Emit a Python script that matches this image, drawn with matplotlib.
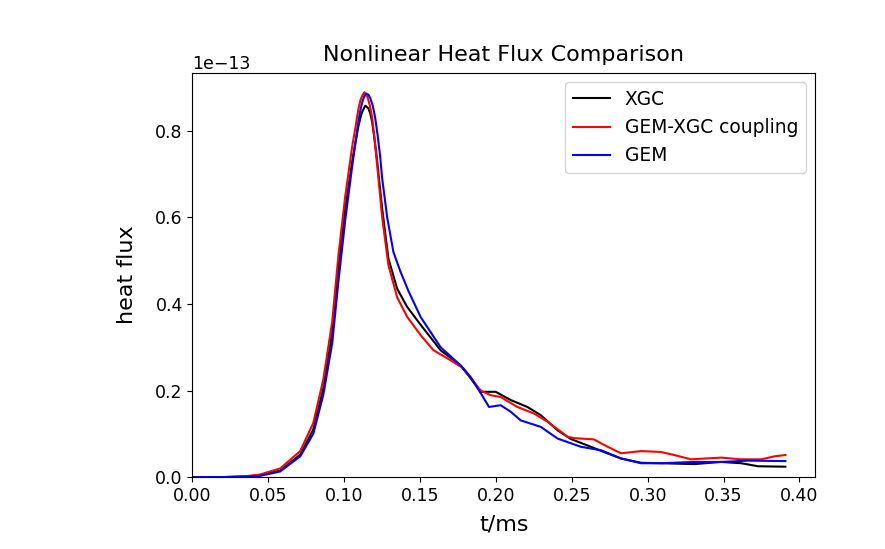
import matplotlib
matplotlib.use("Agg")
import matplotlib.pyplot as plt
import numpy as np

# values, heat flux in units of 1e-13
t_xgc = [0.0, 0.02, 0.035, 0.0446, 0.0578, 0.071, 0.0796, 0.0862, 0.0921, 0.0961,
         0.1007, 0.1053, 0.1075, 0.1093, 0.1108, 0.112, 0.1139, 0.1159, 0.1172, 0.1184,
         0.12, 0.1217, 0.125, 0.1291, 0.1349, 0.1415, 0.1503, 0.1635, 0.1767, 0.1833,
         0.1899, 0.1998, 0.2097, 0.2207, 0.2295, 0.2406, 0.2493, 0.2625, 0.2711, 0.2824,
         0.2956, 0.3088, 0.3306, 0.3484, 0.3616, 0.3727, 0.3907]
q_xgc = [0.0, 0.0, 0.001, 0.004, 0.015, 0.052, 0.11, 0.205, 0.335, 0.48,
         0.62, 0.73, 0.775, 0.81, 0.832, 0.845, 0.858, 0.852, 0.84, 0.82,
         0.78, 0.73, 0.62, 0.505, 0.435, 0.393, 0.352, 0.293, 0.258, 0.228,
         0.197, 0.197, 0.178, 0.162, 0.143, 0.108, 0.088, 0.07, 0.058, 0.043,
         0.033, 0.032, 0.030, 0.035, 0.032, 0.025, 0.024]

t_cpl = [0.0, 0.02, 0.035, 0.0446, 0.0578, 0.071, 0.0796, 0.0862, 0.0921, 0.0961,
         0.1007, 0.1053, 0.1075, 0.1093, 0.1108, 0.112, 0.1133, 0.1153, 0.1168, 0.1184,
         0.12, 0.1217, 0.125, 0.1291, 0.1349, 0.1415, 0.1503, 0.1588, 0.170, 0.1786,
         0.1899, 0.1965, 0.2031, 0.2141, 0.2249, 0.234, 0.2472, 0.2513, 0.2645, 0.2736,
         0.2824, 0.2956, 0.3088, 0.3174, 0.3286, 0.3484, 0.3616, 0.3748, 0.3836, 0.3907]
q_cpl = [0.0, 0.0, 0.002, 0.006, 0.02, 0.06, 0.125, 0.225, 0.36, 0.51,
         0.65, 0.765, 0.81, 0.85, 0.872, 0.882, 0.889, 0.878, 0.86, 0.83,
         0.78, 0.72, 0.6, 0.49, 0.415, 0.37, 0.328, 0.293, 0.27, 0.251,
         0.20, 0.189, 0.185, 0.162, 0.147, 0.128, 0.093, 0.09, 0.087, 0.07,
         0.055, 0.06, 0.058, 0.051, 0.041, 0.045, 0.041, 0.041, 0.048, 0.051]

t_gem = [0.0, 0.02, 0.035, 0.0446, 0.0578, 0.071, 0.0796, 0.0862, 0.0921, 0.0961,
         0.1007, 0.1053, 0.1075, 0.1093, 0.1108, 0.112, 0.1133, 0.1146, 0.116, 0.1172,
         0.1188, 0.1204, 0.122, 0.1237, 0.125, 0.1283, 0.1324, 0.137, 0.1423, 0.1503,
         0.1635, 0.1767, 0.1833, 0.1899, 0.1954, 0.2031, 0.2097, 0.2163, 0.2295, 0.2406,
         0.2559, 0.2692, 0.2824, 0.2956, 0.3088, 0.3306, 0.3484, 0.366, 0.3907]
q_gem = [0.0, 0.0, 0.001, 0.003, 0.013, 0.048, 0.10, 0.19, 0.31, 0.45,
         0.595, 0.72, 0.775, 0.82, 0.85, 0.868, 0.88, 0.886, 0.883, 0.875,
         0.858, 0.83, 0.79, 0.74, 0.69, 0.6, 0.52, 0.475, 0.43, 0.37,
         0.30, 0.258, 0.231, 0.194, 0.162, 0.166, 0.151, 0.131, 0.116, 0.089,
         0.07, 0.062, 0.043, 0.032, 0.032, 0.035, 0.035, 0.038, 0.037]

fig = plt.figure(figsize=(8.85, 5.49), dpi=100)
ax = fig.add_axes([0.2175, 0.131, 0.7034, 0.736])

scale = 1e-13
ax.plot(t_xgc, np.array(q_xgc) * scale, color='black', lw=1.5, label='XGC')
ax.plot(t_cpl, np.array(q_cpl) * scale, color='red', lw=1.5, label='GEM-XGC coupling')
ax.plot(t_gem, np.array(q_gem) * scale, color='blue', lw=1.5, label='GEM')

ax.set_xlim(left=0)
ax.set_ylim(bottom=0)
ax.ticklabel_format(axis='y', style='sci', scilimits=(-13, -13))
ax.tick_params(labelsize=12.5)
ax.yaxis.get_offset_text().set_fontsize(12.5)

ax.set_xlabel('t/ms', fontsize=16, labelpad=7)
ax.set_ylabel('heat flux', fontsize=16, labelpad=13)
ax.set_title('Nonlinear Heat Flux Comparison', fontsize=16, pad=9)
ax.legend(loc='upper right', fontsize=13.4)

fig.savefig('out.png', dpi=100)
